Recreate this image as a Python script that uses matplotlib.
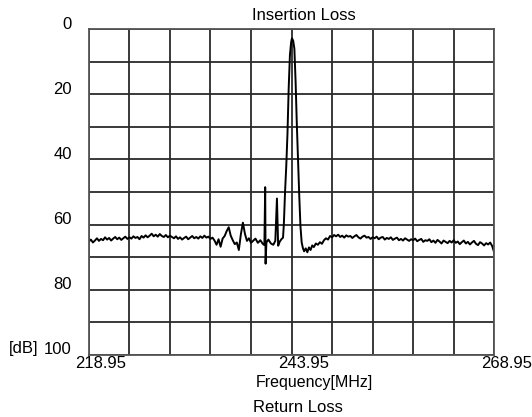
import matplotlib
matplotlib.use("Agg")
import matplotlib.pyplot as plt
import numpy as np
from matplotlib.transforms import offset_copy

plt.rcParams['font.family'] = ['Liberation Sans', 'DejaVu Sans']

# balayage gauche (218.95 -> 238.95 MHz, pas 0.25)
perte_gauche = [65.2, 64.6, 65.5, 64.9, 64.2, 65.0, 64.4, 64.8, 63.9, 64.6, 64.1,
                64.9, 64.3, 63.8, 64.5, 64.0, 64.7, 64.2, 63.7, 64.4, 63.9,
                64.3, 63.6, 64.1, 63.8, 64.5, 63.5, 64.0, 63.3, 63.9, 63.4,
                62.8, 63.6, 63.1, 63.7, 62.9, 63.5, 63.8, 63.2, 63.9, 63.4,
                63.8, 64.2, 63.6, 64.4, 63.9, 64.6, 64.1, 63.7, 64.5, 64.0,
                63.5, 64.2, 63.8, 64.3, 63.6, 64.1, 63.4, 64.0, 63.7, 64.4,
                64.0, 64.9, 66.2, 64.5, 66.8, 64.3, 63.5, 62.0, 60.8, 63.4,
                64.8, 66.0, 65.5, 67.8, 63.0, 59.4, 62.8, 65.0, 64.2, 65.6]

# zone du filtre
freq_pic = [239.2, 239.5, 239.8, 240.1, 240.4, 240.6, 240.7, 240.75, 240.85, 241.1,
            241.4, 241.7, 241.95, 242.15, 242.3, 242.5, 242.7, 242.9, 243.0, 243.15,
            243.3, 243.45, 243.6, 243.75, 243.9, 244.0, 244.15, 244.3, 244.45, 244.6,
            244.75, 244.9, 245.05, 245.2, 245.35, 245.5, 245.7, 245.9, 246.1, 246.3,
            246.5, 246.7, 246.95]
perte_pic = [65.0, 64.3, 65.6, 64.8, 65.9, 66.3, 48.5, 72.0, 65.5, 64.6,
             65.8, 66.2, 65.0, 52.0, 66.5, 65.2, 64.5, 64.0, 60.0, 50.0,
             42.0, 32.0, 18.0, 8.0, 4.0, 2.8, 3.5, 6.0, 16.0, 29.0,
             40.0, 51.0, 60.5, 65.5, 67.2, 68.2, 67.3, 68.5, 67.0, 67.8,
             66.4, 66.9, 65.8]

# balayage droit (247.2 -> 268.95 MHz, pas 0.25)
perte_droite = [66.2, 65.4, 65.9, 64.8, 64.2, 64.6, 63.5, 63.9, 63.2,
                63.6, 63.1, 63.8, 63.4, 64.0, 63.3, 63.7, 63.5, 64.1, 63.6,
                63.2, 63.9, 64.3, 63.7, 63.4, 64.0, 63.8, 64.4, 63.9,
                64.2, 63.7, 64.5, 64.0, 63.8, 64.6, 64.1, 64.4, 63.9, 64.7,
                64.3, 64.0, 64.8, 64.4, 64.9, 64.2, 64.6, 65.0, 64.5, 64.8,
                64.3, 65.1, 64.7, 64.4, 65.3, 64.8, 65.0, 64.5, 65.4, 64.9,
                65.6, 64.7, 65.2, 65.8, 64.9, 65.3, 65.7, 65.0, 65.5, 64.8,
                65.6, 65.2, 66.0, 65.4, 64.9, 65.8, 65.3, 66.1, 65.5, 65.0,
                65.9, 66.3, 65.4, 65.8, 66.4, 65.7, 66.1, 65.5, 66.6, 68.6]

freq_gauche = np.linspace(218.95, 238.95, len(perte_gauche))
freq_droite = np.linspace(247.2, 268.95, len(perte_droite))

freq = np.concatenate([freq_gauche, freq_pic, freq_droite])
perte = np.concatenate([perte_gauche, perte_pic, perte_droite])

x_ticks = [218.95, 243.95, 268.95]
y_ticks = [0, 20, 40, 60, 80, 100]

fig = plt.figure(figsize=(5.32, 4.17), dpi=100)
ax = fig.add_axes([0.167, 0.149, 0.762, 0.781])

ax.plot(freq, perte, color='black', lw=1.4)

ax.set_xlim(218.95, 268.95)
ax.set_ylim(100, 0)
ax.set_xticks(np.linspace(218.95, 268.95, 11))
ax.set_yticks(np.linspace(0, 100, 11))
ax.tick_params(length=0, labelbottom=False, labelleft=False)
ax.grid(True, color='#2a2a2a', lw=1.3)
for s in ax.spines.values():
    s.set_color('#555555')
    s.set_linewidth(1.3)

fs = 12

# graduations y, un peu au-dessus des lignes
tr_y = offset_copy(ax.get_yaxis_transform(), fig=fig, x=-17, y=5, units='dots')
for v in y_ticks:
    ax.text(0, v, str(v), transform=tr_y, ha='right', va='center', fontsize=fs)

tr_x = offset_copy(ax.get_xaxis_transform(), fig=fig, x=12, y=-9, units='dots')
for v in x_ticks:
    ax.text(v, 0, f'{v:.2f}', transform=tr_x, ha='center', va='center', fontsize=fs)

fig.text(24 / 532, 1 - 348 / 417, '[dB]', ha='center', va='center', fontsize=fs)
fig.text(314 / 532, 1 - 382 / 417, 'Frequency[MHz]', ha='center', va='center', fontsize=11.5)
fig.text(298 / 532, 1 - 407 / 417, 'Return Loss', ha='center', va='center', fontsize=fs)
fig.text(304 / 532, 1 - 15 / 417, 'Insertion Loss', ha='center', va='center', fontsize=fs)

fig.savefig('out.png', dpi=100)
